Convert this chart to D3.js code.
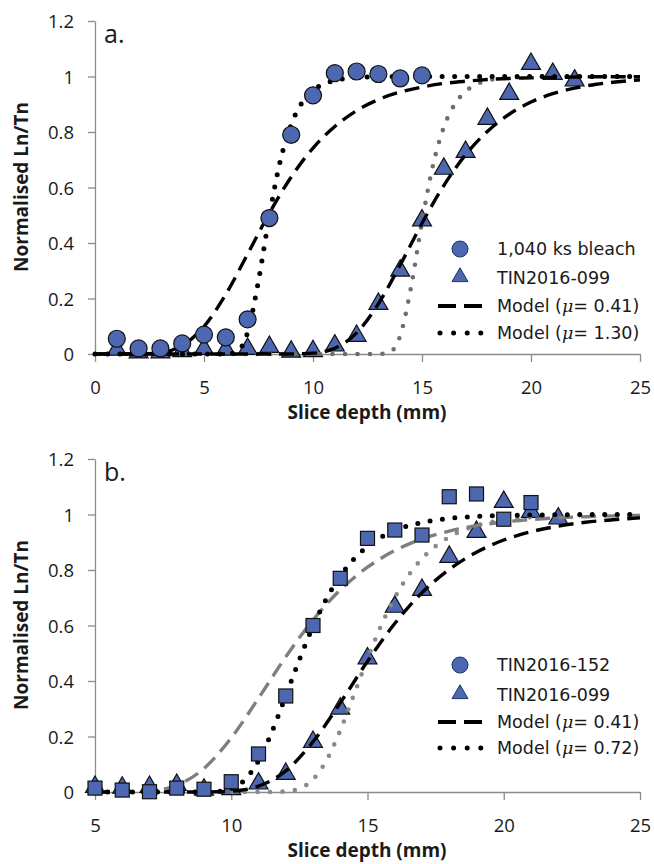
<!DOCTYPE html>
<html>
<head>
<meta charset="utf-8">
<script src="https://cdn.jsdelivr.net/npm/d3@7"></script>
<style>
  body { margin: 0; background: #fff; }
  svg { display: block; }
</style>
</head>
<body>
<div id="chart"></div>
<script>
// ---- data ----
const yTicks = [0, 0.2, 0.4, 0.6, 0.8, 1, 1.2];
const xTicksA = [0, 5, 10, 15, 20, 25];
const xTicksB = [5, 10, 15, 20, 25];

// panel a: 1,040 ks bleach (circles)
const bleachDepth = [1, 2, 3, 4, 5, 6, 7, 8, 9, 10, 11, 12, 13, 14, 15];
const bleachLnTn = [0.055, 0.02, 0.02, 0.038, 0.07, 0.06, 0.125, 0.49, 0.79, 0.932, 1.012, 1.018, 1.009, 0.993, 1.004];

// TIN2016-099 (triangles, both panels)
const tin099Depth = [1, 2, 3, 4, 5, 6, 7, 8, 9, 10, 11, 12, 13, 14, 15, 16, 17, 18, 19, 20, 21, 22];
const tin099LnTn = [0.01, 0.0, 0.0, 0.005, 0.013, 0.01, 0.013, 0.02, 0.003, 0.005, 0.025, 0.06, 0.175, 0.295, 0.476, 0.662, 0.723, 0.842, 0.932, 1.04, 1.004, 0.98];

// panel b: TIN2016-152 (squares)
const tin152Depth = [5, 6, 7, 8, 9, 10, 11, 12, 13, 14, 15, 16, 17, 18, 19, 20, 21];
const tin152LnTn = [0.014, 0.007, 0.001, 0.014, 0.01, 0.037, 0.137, 0.346, 0.6, 0.77, 0.914, 0.944, 0.926, 1.064, 1.074, 0.983, 1.043];

// model curves [depth, Ln/Tn]
const modelBleach041 = [[0,0],[1,0],[2,0.0004],[3,0.005],[4,0.03],[5,0.099],[6,0.215],[7,0.36],[8,0.508],[9,0.638],[10,0.742],[11,0.82],[12,0.877],[13,0.917],[14,0.944],[15,0.962],[16,0.975],[17,0.983],[18,0.989],[19,0.993],[20,0.995],[21,0.997],[22,0.998],[23,0.999],[24,0.999],[25,0.999]];
const modelBleach130 = [[0,0],[5,0],[6,0.0001],[6.5,0.008],[7,0.078],[7.5,0.264],[8,0.499],[8.5,0.696],[9,0.827],[9.5,0.906],[10,0.95],[10.5,0.973],[11,0.986],[12,0.996],[13,0.999],[14,1],[25,1]];
const modelTin099_041 = [[0,0],[5,0],[8,0],[9,0.0002],[10,0.003],[11,0.021],[12,0.076],[13,0.181],[14,0.321],[15,0.471],[16,0.607],[17,0.718],[18,0.802],[19,0.864],[20,0.908],[21,0.938],[22,0.958],[23,0.972],[24,0.981],[25,0.988]];
const modelTin099_130 = [[0,0],[12,0],[13,0],[13.5,0.006],[14,0.066],[14.5,0.242],[15,0.476],[15.5,0.679],[16,0.817],[16.5,0.9],[17,0.946],[17.5,0.972],[18,0.985],[19,0.996],[20,0.999],[21,1],[25,1]];
const modelTin152_041 = [[5,0],[6,0.0002],[7,0.004],[8,0.024],[9,0.085],[10,0.195],[11,0.338],[12,0.487],[13,0.62],[14,0.728],[15,0.81],[16,0.87],[17,0.912],[18,0.94],[19,0.96],[20,0.973],[21,0.982],[22,0.988],[23,0.992],[24,0.995],[25,0.997]];
const modelTin152_072 = [[5,0],[8,0],[9,0.0001],[9.5,0.002],[10,0.011],[10.5,0.044],[11,0.113],[11.5,0.219],[12,0.347],[12.5,0.477],[13,0.597],[13.5,0.698],[14,0.778],[14.5,0.839],[15,0.885],[16,0.942],[17,0.971],[18,0.986],[19,0.993],[20,0.997],[21,0.998],[22,0.999],[23,1],[25,1]];
const modelTin099_072 = [[5,0],[10,0],[11,0],[11.5,0.0001],[12,0.002],[12.5,0.012],[13,0.045],[13.5,0.115],[14,0.222],[14.5,0.35],[15,0.48],[15.5,0.6],[16,0.7],[16.5,0.78],[17,0.841],[18,0.919],[19,0.96],[20,0.98],[21,0.99],[22,0.995],[23,0.998],[24,0.999],[25,1]];

const legendA = ["1,040 ks bleach", "TIN2016-099", "0.41", "1.30"];
const legendB = ["TIN2016-152", "TIN2016-099", "0.41", "0.72"];

// ---- styles ----
const W = 654, H = 864;
const blue = "#4d67b0";
const tickFont = "'Open Sans', sans-serif";
const legFont = "'DejaVu Sans', Verdana, sans-serif";

const svg = d3.select("#chart").append("svg")
  .attr("width", W).attr("height", H)
  .attr("viewBox", `0 0 ${W} ${H}`);

const triPath = d3.symbol().type(d3.symbolTriangle).size(155)();

function dashed(sel, color) {
  sel.attr("fill", "none").attr("stroke", color)
    .attr("stroke-width", 3.4).attr("stroke-dasharray", "15,8");
}
function dotted(sel, color, w) {
  sel.attr("fill", "none").attr("stroke", color)
    .attr("stroke-width", w).attr("stroke-linecap", "round")
    .attr("stroke-dasharray", "0,12.5");
}

function panel(cfg) {
  const g = svg.append("g");
  const x = d3.scaleLinear().domain(cfg.xDomain).range([95, 640]);
  const y = d3.scaleLinear().domain([0, 1.2]).range([cfg.bottom, cfg.bottom - 333]);

  // axes
  const yAxis = g.append("g").attr("transform", "translate(95,0)")
    .call(d3.axisLeft(y).tickValues(yTicks).tickSize(7).tickSizeOuter(0).tickPadding(14).tickFormat(d => d));
  const xAxis = g.append("g").attr("transform", `translate(0,${cfg.bottom})`)
    .call(d3.axisBottom(x).tickValues(cfg.xTicks).tickSize(8).tickSizeOuter(0).tickPadding(19).tickFormat(d => d));
  [yAxis, xAxis].forEach(a => {
    a.select(".domain").attr("stroke", "#8c8c8c").attr("stroke-width", 1.3);
    a.selectAll(".tick line").attr("stroke", "#8c8c8c").attr("stroke-width", 1.3);
    a.selectAll("text").attr("font-family", tickFont).attr("font-size", 18.5).attr("fill", "#1a1a1a");
  });
  yAxis.selectAll("text").attr("dy", "0.36em");

  g.append("text").attr("x", 367).attr("y", cfg.bottom + 65)
    .attr("text-anchor", "middle").attr("font-family", tickFont)
    .attr("font-weight", "bold").attr("font-size", 19).attr("fill", "#1a1a1a")
    .text("Slice depth (mm)");
  g.append("text")
    .attr("transform", `translate(28,${cfg.bottom - 167}) rotate(-90)`)
    .attr("text-anchor", "middle").attr("font-family", tickFont)
    .attr("font-weight", "bold").attr("font-size", 19).attr("fill", "#1a1a1a")
    .text("Normalised Ln/Tn");
  g.append("text").attr("x", 104).attr("y", cfg.bottom - 311)
    .attr("font-family", tickFont).attr("font-size", 25).attr("fill", "#1a1a1a")
    .text(cfg.label);

  const line = d3.line().x(d => x(d[0])).y(d => y(d[1])).curve(d3.curveMonotoneX);

  // triangles first
  g.append("g").selectAll("path").data(cfg.tri).join("path")
    .attr("d", triPath)
    .attr("transform", d => `translate(${x(d[0])},${y(d[1]) - 1.5})`)
    .attr("fill", blue).attr("stroke", "#111").attr("stroke-width", 1.2);

  // model lines
  cfg.lines.forEach(L => {
    const p = g.append("path").attr("d", line(L.data));
    if (L.style === "dash") dashed(p, L.color); else dotted(p, L.color, L.w);
  });

  // circles / squares on top
  if (cfg.marker === "circle") {
    g.append("g").selectAll("circle").data(cfg.main).join("circle")
      .attr("cx", d => x(d[0])).attr("cy", d => y(d[1])).attr("r", 8.5)
      .attr("fill", blue).attr("stroke", "#111").attr("stroke-width", 1.2);
  } else {
    g.append("g").selectAll("rect").data(cfg.main).join("rect")
      .attr("x", d => x(d[0]) - 7).attr("y", d => y(d[1]) - 7)
      .attr("width", 14).attr("height", 14)
      .attr("fill", blue).attr("stroke", "#111").attr("stroke-width", 1.2);
  }

  // legend
  const lg = g.append("g");
  const rows = cfg.legendY;
  lg.append("circle").attr("cx", 460).attr("cy", rows[0]).attr("r", 8)
    .attr("fill", blue).attr("stroke", "#1f3366").attr("stroke-width", 1);
  lg.append("path").attr("d", d3.symbol().type(d3.symbolTriangle).size(110)())
    .attr("transform", `translate(460,${rows[1] - 1})`)
    .attr("fill", blue).attr("stroke", "#1f3366").attr("stroke-width", 1);
  lg.append("path").attr("d", `M438,${rows[2]}H482`)
    .attr("stroke", "#000").attr("stroke-width", 4).attr("stroke-dasharray", "18,8");
  lg.append("path").attr("d", `M440,${rows[3]}H481`)
    .attr("stroke", "#000").attr("stroke-width", 5).attr("stroke-linecap", "round")
    .attr("stroke-dasharray", "0,13.6");
  const txt = (i) => lg.append("text").attr("x", 497).attr("y", rows[i]).attr("dy", "0.36em")
    .attr("font-family", legFont).attr("font-size", 17.5).attr("fill", "#1a1a1a");
  txt(0).text(cfg.legend[0]);
  txt(1).text(cfg.legend[1]);
  [2, 3].forEach(i => {
    const t = txt(i);
    t.append("tspan").text("Model (");
    t.append("tspan").attr("font-family", "'DejaVu Serif', serif").attr("font-style", "italic").text("\u03bc");
    t.append("tspan").text("= " + cfg.legend[i] + ")");
  });
}

const zip = (a, b) => a.map((v, i) => [v, b[i]]);
const tri = zip(tin099Depth, tin099LnTn);

panel({
  label: "a.", bottom: 354, xDomain: [0, 25], xTicks: xTicksA,
  tri: tri, main: zip(bleachDepth, bleachLnTn), marker: "circle",
  lines: [
    { data: modelTin099_130, style: "dot", color: "#6e6e6e", w: 4.6 },
    { data: modelBleach130, style: "dot", color: "#000", w: 5 },
    { data: modelBleach041, style: "dash", color: "#000" },
    { data: modelTin099_041, style: "dash", color: "#000" }
  ],
  legend: legendA, legendY: [249, 278, 306, 333]
});

panel({
  label: "b.", bottom: 792, xDomain: [5, 25], xTicks: xTicksB,
  tri: tri.filter(d => d[0] >= 5), main: zip(tin152Depth, tin152LnTn), marker: "square",
  lines: [
    { data: modelTin099_072, style: "dot", color: "#8a8a8a", w: 4.6 },
    { data: modelTin152_041, style: "dash", color: "#7f7f7f" },
    { data: modelTin152_072, style: "dot", color: "#000", w: 5 },
    { data: modelTin099_041.filter(d => d[0] >= 5), style: "dash", color: "#000" }
  ],
  legend: legendB, legendY: [665, 695, 722, 748]
});
</script>
</body>
</html>
